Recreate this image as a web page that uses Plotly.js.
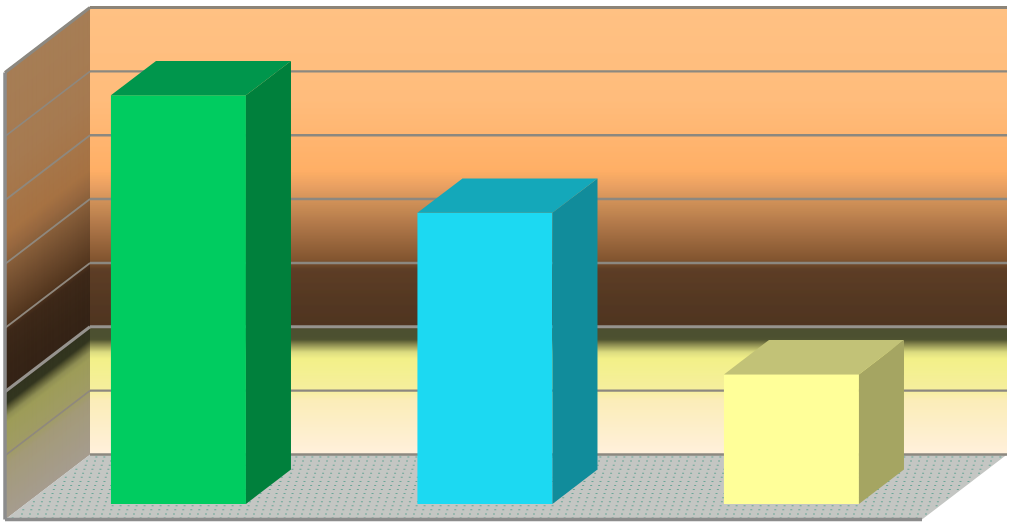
<!DOCTYPE html>
<html>
<head>
<meta charset="utf-8">
<script src="https://cdn.plot.ly/plotly-3.0.1.min.js"></script>
<style>html,body{margin:0;padding:0;background:#fff}#chart{width:1015px;height:524px}</style>
</head>
<body>
<div id="chart"></div>
<script>
// Data
const categories = [1, 2, 3];
const values = [6.4, 4.56, 2.03];
const tickValues = [0, 1, 2, 3, 4, 5, 6, 7];
const frontColors = ['#00CC60', '#1CD9F2', '#FFFF99'];
const sideColors = ['#00803C', '#118C9B', '#A5A562'];
const topColors = ['#00964C', '#14A8BA', '#C2C277'];

// Wall gradient stops: position on the value axis, colour
const gradientAt = [7, 5.55, 4.45, 4.2, 4, 3.5, 3.05, 2.9, 2.4, 2.01, 1.96, 1.8, 1.72, 1.6, 1.5, 1, 0.85, 0];
const gradientRgb = [[255,193,131],[255,188,124],[255,175,102],[233,160,98],[211,147,90],[168,114,69],[130,85,48],[94,62,38],[84,56,34],[80,53,33],[76,80,48],[78,82,48],[140,140,80],[220,220,128],[242,240,136],[246,239,158],[251,237,184],[255,240,220]];

// Scales of the drawing
const W = 1015, H = 524;
const pxPerValue = 447 / 7, pxPerCat = 306.5;
const zeroPy = 454.5, cat1Px = 243.2;
const depthDx = 85 / pxPerCat, depthDy = 65 / pxPerValue;
const barWidth = 135 / pxPerCat;
const dFront = 0.762, dBack = 0.232;
const wallL = 1 - (cat1Px - 90) / pxPerCat, wallR = 1 + (1007 - cat1Px) / pxPerCat;
const yMax = tickValues[tickValues.length - 1];

const X = (w, d) => w - d * depthDx;
const Y = (v, d) => v - d * depthDy;
const px = p => p / pxPerCat, py = p => p / pxPerValue;
const poly = pts => 'M' + pts.map(p => p[0] + ',' + p[1]).join('L') + 'Z';

function colorAt(v, k) {
  let i = 0;
  while (i < gradientAt.length - 2 && v < gradientAt[i + 1]) i++;
  const t = Math.min(1, Math.max(0, (gradientAt[i] - v) / (gradientAt[i] - gradientAt[i + 1])));
  const c = gradientRgb[i].map((a, j) => Math.round((a + (gradientRgb[i + 1][j] - a) * t) * k));
  return 'rgb(' + c.join(',') + ')';
}

const shapes = [];
const fillShape = (path, color) => shapes.push({type: 'path', xref: 'x', yref: 'y', layer: 'below', path, fillcolor: color, line: {width: 0}});
const lineShape = (x0, y0, x1, y1, color, width) => shapes.push({type: 'line', xref: 'x', yref: 'y', layer: 'below', x0, y0, x1, y1, line: {color, width}});

// Walls, one thin band per pixel row
const bandStep = py(1), overlap = py(1.2);
for (let v = yMax; v > 0; v -= bandStep) {
  const lo = Math.max(0, v - bandStep - overlap);
  fillShape(poly([[wallL, v], [wallR, v], [wallR, lo], [wallL, lo]]), colorAt(v - bandStep / 2, 1));
  fillShape(poly([[wallL, v], [X(wallL, 1), Y(v, 1)], [X(wallL, 1), Y(lo, 1)], [wallL, lo]]), colorAt(v - bandStep / 2, 0.65));
}

// Floor and its dotted texture
fillShape(poly([[wallL, 0], [wallR, 0], [X(wallR, 1), Y(0, 1)], [X(wallL, 1), Y(0, 1)]]), '#C4C6C3');
let dots = '';
const rows = Math.floor(65 / 4);
for (let r = 0; r < rows; r++) {
  const d = (r + 0.5) / rows;
  for (let c = -1; c * 8 < 920; c++) {
    const w = wallL + px(c * 8 + (r % 2 ? 4 : 0));
    if (w < wallL + px(1) || w > wallR - px(2)) continue;
    const a = X(w, d), b = Y(0, d);
    dots += poly([[a, b], [a + px(2), b], [a + px(2), b - py(1)], [a, b - py(1)]]);
  }
}
fillShape(dots, '#6BA698');

// Gridlines on both walls
tickValues.forEach(t => {
  const strong = t === 2;
  lineShape(wallL, t, wallR, t, strong ? '#96938E' : '#8C8880', strong ? 3 : 2.4);
  if (t > 0) lineShape(wallL, t, X(wallL, 1), Y(t, 1), strong ? '#96938E' : '#8F887E', strong ? 3 : 1.8);
});
// Outer edges
lineShape(X(wallL, 1), Y(yMax, 1), X(wallL, 1), Y(0, 1), '#8C8C8C', 3.5);
lineShape(X(wallL, 1), Y(0, 1), X(wallR, 1), Y(0, 1), '#8C8C8C', 3.5);
lineShape(wallL, yMax, X(wallL, 1), Y(yMax, 1), '#8C8880', 3);
lineShape(wallL, yMax, wallR, yMax, '#8C8478', 3);

// Traces
const xFront = categories.map(c => X(c, dFront));
const traces = [{
  type: 'bar',
  x: xFront,
  y: values,
  base: categories.map(() => Y(0, dFront)),
  width: categories.map(() => barWidth),
  marker: {color: frontColors, line: {width: 0}},
  hoverinfo: 'skip',
  showlegend: false
}];
categories.forEach((c, i) => {
  const v = values[i];
  const fx = xFront[i] + barWidth / 2, lx = xFront[i] - barWidth / 2;
  const ddx = (dFront - dBack) * depthDx, ddy = (dFront - dBack) * depthDy;
  const b0 = Y(0, dFront), t0 = b0 + v;
  const face = (xs, ys, color) => traces.push({type: 'scatter', mode: 'lines', x: xs, y: ys, fill: 'toself', fillcolor: color, line: {width: 0, color}, hoverinfo: 'skip', showlegend: false});
  face([fx, fx + ddx, fx + ddx, fx, fx], [b0, b0 + ddy, t0 + ddy, t0, b0], sideColors[i]);
  face([lx, lx + ddx, fx + ddx, fx, lx], [t0, t0 + ddy, t0 + ddy, t0, t0], topColors[i]);
});

const layout = {
  width: W, height: H,
  margin: {l: 0, r: 0, t: 0, b: 0, pad: 0},
  paper_bgcolor: '#FFFFFF', plot_bgcolor: '#FFFFFF',
  showlegend: false,
  xaxis: {visible: false, range: [1 - cat1Px / pxPerCat, 1 + (W - cat1Px) / pxPerCat], fixedrange: true},
  yaxis: {visible: false, range: [-(H - zeroPy) / pxPerValue, zeroPy / pxPerValue], fixedrange: true},
  shapes
};
Plotly.newPlot('chart', traces, layout, {displayModeBar: false, staticPlot: true});
</script>
</body>
</html>
